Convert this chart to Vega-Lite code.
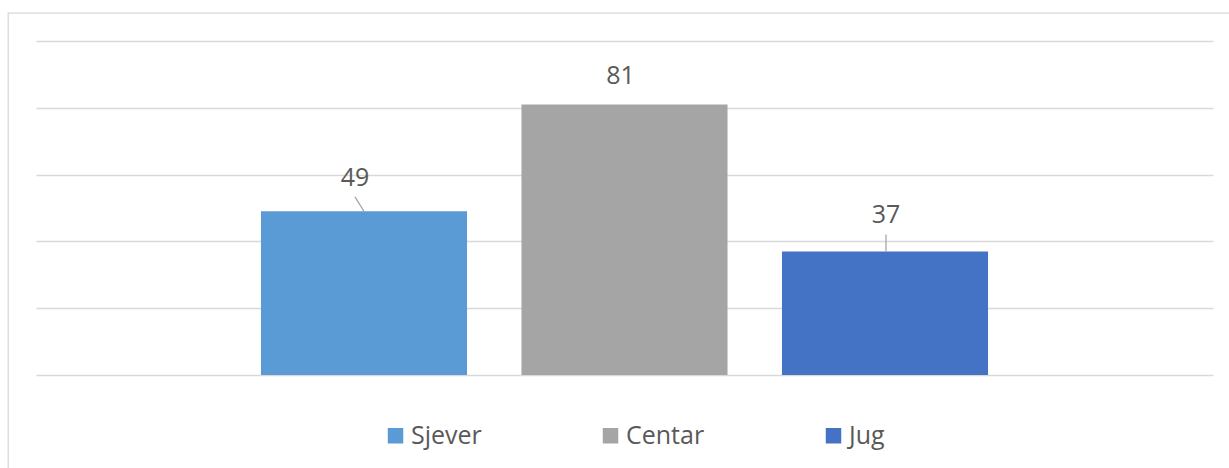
{
  "$schema": "https://vega.github.io/schema/vega-lite/v6.json",
  "width": 1223,
  "height": 457,
  "autosize": {"type": "none"},
  "padding": {"left": 8, "top": 13, "right": -2, "bottom": -2},
  "background": "white",
  "config": {
    "view": {"stroke": "#d9d9d9", "strokeWidth": 1.3},
    "font": "Open Sans"
  },
  "data": {
    "values": [
      {"regija": "Sjever", "broj": 49},
      {"regija": "Centar", "broj": 81},
      {"regija": "Jug", "broj": 37}
    ]
  },
  "encoding": {
    "x": {
      "field": "regija",
      "type": "nominal",
      "sort": ["Sjever", "Centar", "Jug"],
      "bandPosition": 0.5,
      "scale": {"range": [28, 1205], "paddingInner": 0.209, "paddingOuter": 0.8636},
      "axis": null
    },
    "y": {
      "field": "broj",
      "type": "quantitative",
      "scale": {"domain": [0, 100], "range": [362, 28], "nice": false},
      "axis": {
        "values": [0, 20, 40, 60, 80, 100],
        "labels": false,
        "ticks": false,
        "domain": false,
        "title": null,
        "grid": true,
        "gridColor": "#d9d9d9",
        "gridWidth": 1.5
      }
    }
  },
  "layer": [
    {
      "mark": {"type": "bar"},
      "encoding": {
        "x": {
          "field": "regija",
          "type": "nominal",
          "sort": ["Sjever", "Centar", "Jug"]
        },
        "color": {
          "field": "regija",
          "type": "nominal",
          "scale": {
            "domain": ["Sjever", "Centar", "Jug"],
            "range": ["#5b9bd5", "#a5a5a5", "#4472c4"]
          },
          "legend": {
            "orient": "none",
            "legendX": 375,
            "legendY": 410,
            "direction": "horizontal",
            "title": null,
            "padding": 0,
            "symbolType": "square",
            "symbolSize": 240,
            "symbolStrokeWidth": 0,
            "labelFont": "Open Sans",
            "labelFontSize": 25,
            "labelColor": "#595959",
            "labelOffset": 3,
            "labelLimit": 300,
            "columnPadding": 116
          }
        }
      }
    },
    {
      "transform": [{"filter": "datum.regija === 'Sjever'"}],
      "mark": {"type": "rule", "color": "#a6a6a6", "strokeWidth": 1.3, "x2Offset": -9, "y2Offset": -14.5},
      "encoding": {
        "x2": {"field": "regija", "bandPosition": 0.5},
        "y2": {"field": "broj"}
      }
    },
    {
      "transform": [{"filter": "datum.regija === 'Jug'"}],
      "mark": {"type": "rule", "color": "#a6a6a6", "strokeWidth": 1.3, "xOffset": 1, "x2Offset": 1, "y2Offset": -17},
      "encoding": {
        "x2": {"field": "regija", "bandPosition": 0.5},
        "y2": {"field": "broj"}
      }
    },
    {
      "transform": [{"filter": "datum.regija === 'Sjever'"}],
      "mark": {"type": "text", "fontSize": 25, "color": "#595959", "baseline": "alphabetic", "align": "center", "dx": -9, "dy": -25},
      "encoding": {"text": {"field": "broj", "type": "quantitative"}}
    },
    {
      "transform": [{"filter": "datum.regija === 'Centar'"}],
      "mark": {"type": "text", "fontSize": 25, "color": "#595959", "baseline": "alphabetic", "align": "center", "dx": -4, "dy": -20},
      "encoding": {"text": {"field": "broj", "type": "quantitative"}}
    },
    {
      "transform": [{"filter": "datum.regija === 'Jug'"}],
      "mark": {"type": "text", "fontSize": 25, "color": "#595959", "baseline": "alphabetic", "align": "center", "dx": 1, "dy": -28},
      "encoding": {"text": {"field": "broj", "type": "quantitative"}}
    }
  ]
}
